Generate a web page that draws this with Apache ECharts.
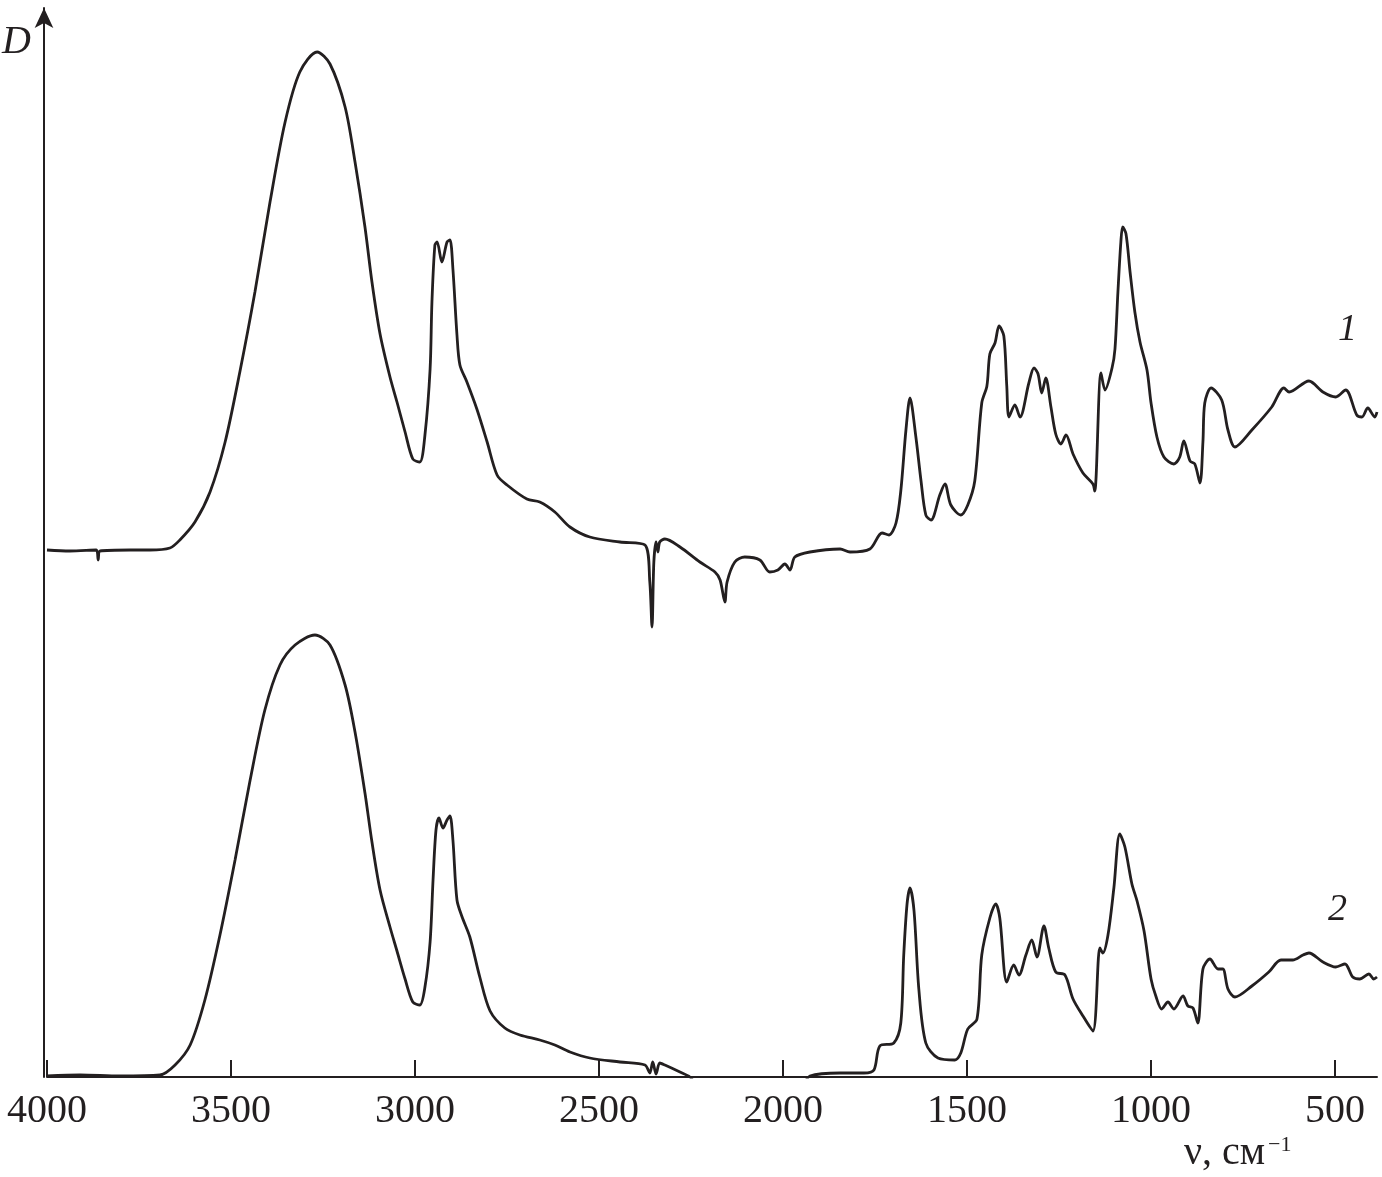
<!DOCTYPE html>
<html>
<head>
<meta charset="utf-8">
<script src="https://cdn.jsdelivr.net/npm/echarts@6/dist/echarts.min.js"></script>
<style>
html,body{margin:0;padding:0;background:#fff;}
#chart{width:1382px;height:1177px;}
</style>
</head>
<body>
<div id="chart"></div>
<script>
// Wavenumber ticks (cm^-1)
const tickValues = [4000, 3500, 3000, 2500, 2000, 1500, 1000, 500];

// Spectrum 1 (upper)
const wn1 = [4000,3938,3866,3861,3856,3774,3720,3666,3639,3598,3557,3516,3476,3435,3394,3353,3313,3266,3231,3190,3163,3136,3117,3095,3068,3049,3027,3006,2987,2973,2959,2954,2946,2940,2927,2913,2905,2897,2886,2878,2859,2832,2804,2777,2750,2696,2661,2620,2579,2525,2443,2375,2362,2356,2351,2345,2340,2335,2321,2280,2226,2185,2171,2158,2152,2131,2104,2063,2036,2014,1995,1981,1968,1927,1845,1818,1764,1731,1712,1693,1680,1666,1655,1639,1625,1612,1598,1574,1560,1544,1517,1498,1479,1460,1446,1438,1424,1413,1400,1392,1386,1370,1356,1332,1318,1307,1297,1286,1272,1259,1245,1231,1212,1185,1158,1153,1136,1125,1106,1098,1090,1082,1077,1068,1057,1044,1030,1011,1000,984,965,938,922,911,894,881,867,859,854,837,808,791,772,726,672,639,625,571,533,498,471,441,427,411,392,386];
const d1 = [0.527,0.526,0.527,0.517,0.526,0.527,0.527,0.529,0.537,0.555,0.585,0.635,0.705,0.785,0.875,0.955,1.005,1.025,1.013,0.970,0.915,0.850,0.795,0.743,0.700,0.675,0.645,0.618,0.615,0.642,0.708,0.775,0.832,0.835,0.815,0.835,0.837,0.808,0.742,0.712,0.695,0.668,0.635,0.602,0.592,0.578,0.575,0.565,0.550,0.540,0.535,0.532,0.495,0.450,0.515,0.535,0.525,0.535,0.538,0.530,0.515,0.505,0.497,0.475,0.495,0.515,0.520,0.517,0.505,0.507,0.513,0.507,0.520,0.525,0.528,0.525,0.528,0.544,0.542,0.554,0.586,0.647,0.679,0.640,0.596,0.562,0.557,0.582,0.593,0.572,0.562,0.572,0.596,0.674,0.691,0.723,0.734,0.751,0.741,0.691,0.660,0.672,0.660,0.694,0.709,0.703,0.684,0.699,0.670,0.643,0.633,0.642,0.623,0.604,0.593,0.586,0.704,0.687,0.709,0.728,0.785,0.835,0.850,0.843,0.805,0.765,0.735,0.707,0.674,0.640,0.620,0.613,0.620,0.636,0.616,0.613,0.594,0.635,0.674,0.689,0.677,0.647,0.630,0.647,0.670,0.689,0.685,0.696,0.685,0.680,0.687,0.662,0.660,0.669,0.660,0.665];

// Spectrum 2 (lower)
const wn2 = [4000,3910,3802,3693,3652,3611,3571,3530,3489,3448,3408,3367,3326,3272,3231,3190,3163,3136,3117,3095,3068,3049,3027,3006,2987,2973,2959,2951,2943,2935,2924,2913,2905,2897,2886,2872,2851,2824,2796,2756,2715,2661,2620,2579,2525,2443,2375,2362,2354,2345,2335,2321,2280,2253,2226,1954,1927,1845,1780,1753,1737,1699,1680,1672,1663,1655,1644,1631,1612,1579,1533,1517,1498,1473,1460,1438,1422,1411,1392,1373,1359,1340,1324,1310,1291,1278,1259,1234,1212,1185,1158,1139,1131,1117,1101,1085,1071,1052,1038,1019,1000,987,971,954,938,913,900,886,873,859,840,818,805,791,772,726,680,647,615,587,571,533,498,473,452,433,408,395,386];
const d2 = [0.001,0.002,0.001,0.002,0.012,0.032,0.077,0.142,0.217,0.297,0.367,0.412,0.432,0.442,0.432,0.392,0.345,0.284,0.235,0.187,0.150,0.126,0.098,0.075,0.072,0.090,0.135,0.197,0.247,0.259,0.249,0.257,0.261,0.237,0.177,0.160,0.140,0.100,0.066,0.049,0.042,0.037,0.032,0.025,0.019,0.015,0.012,0.004,0.015,0.003,0.014,0.012,0.005,0.000,-0.010,-0.010,0.001,0.004,0.004,0.007,0.031,0.034,0.054,0.122,0.173,0.189,0.166,0.088,0.034,0.019,0.017,0.024,0.048,0.058,0.122,0.159,0.173,0.159,0.095,0.112,0.102,0.122,0.137,0.120,0.151,0.129,0.105,0.102,0.078,0.061,0.046,0.129,0.124,0.142,0.189,0.243,0.230,0.193,0.176,0.146,0.098,0.081,0.068,0.075,0.068,0.081,0.071,0.069,0.054,0.108,0.118,0.108,0.108,0.088,0.080,0.091,0.105,0.117,0.117,0.122,0.124,0.115,0.110,0.113,0.100,0.098,0.103,0.098,0.100];

const ink = '#231f20';
const serif = '"Liberation Serif", "Times New Roman", serif';

function pairs(xs, ys) { return xs.map((x, i) => [x, ys[i]]); }

const chart = echarts.init(document.getElementById('chart'), null, {renderer: 'canvas'});
chart.setOption({
  animation: false,
  backgroundColor: '#ffffff',
  grid: {left: 47, right: 5, top: 8, bottom: 100, containLabel: false},
  xAxis: {
    type: 'value',
    inverse: true,
    min: 386,
    max: 4000,
    axisLine: {show: true, lineStyle: {color: ink, width: 2}},
    axisTick: {show: true, inside: true, length: 17, lineStyle: {color: ink, width: 2}, customValues: tickValues},
    axisLabel: {show: true, customValues: tickValues, margin: 14, fontSize: 40, fontFamily: serif, color: ink,
      formatter: function (v) { return String(v); }},
    splitLine: {show: false}
  },
  yAxis: {
    type: 'value',
    min: 0,
    max: 1.069,
    offset: 3,
    axisLine: {show: true, symbol: ['none', 'arrow'], symbolSize: [14, 20], lineStyle: {color: ink, width: 2}},
    axisTick: {show: false},
    axisLabel: {show: false},
    splitLine: {show: false}
  },
  graphic: [
    {type: 'text', left: 2, top: 22, style: {text: 'D', font: 'italic 40px ' + serif, fill: ink}},
    {type: 'text', left: 1338, top: 311, style: {text: '1', font: 'italic 38px ' + serif, fill: ink}},
    {type: 'text', left: 1328, top: 891, style: {text: '2', font: 'italic 38px ' + serif, fill: ink}},
    {type: 'text', left: 1184, top: 1133, style: {text: 'ν, см', font: '40px ' + serif, fill: ink}},
    {type: 'text', left: 1268, top: 1134, style: {text: '−1', font: '22px ' + serif, fill: ink}}
  ],
  series: [
    {type: 'line', data: pairs(wn1, d1), showSymbol: false, clip: true, smooth: 0.3,
      lineStyle: {color: ink, width: 2.8}},
    {type: 'line', data: pairs(wn2, d2), showSymbol: false, clip: true, smooth: 0.3,
      lineStyle: {color: ink, width: 2.8}}
  ]
});
</script>
</body>
</html>
